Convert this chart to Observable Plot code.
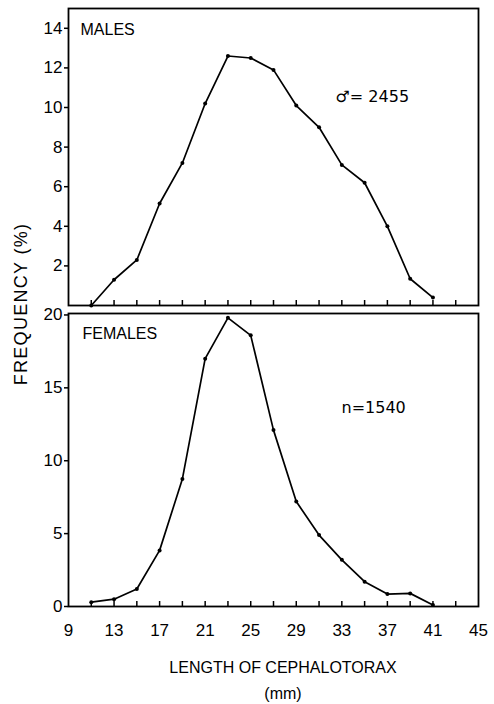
<!DOCTYPE html>
<html><head><meta charset="utf-8">
<script src="https://cdn.jsdelivr.net/npm/d3@7"></script>
<script src="https://cdn.jsdelivr.net/npm/@observablehq/plot@0.6"></script>
<style>
body{margin:0;background:#fff;}
#wrap{position:relative;width:494px;height:704px;font-family:"Liberation Sans",Arial,sans-serif;color:#000;overflow:hidden;}
#top{position:absolute;left:0;top:0;}
#bot{position:absolute;left:0;top:309px;}
.ylab{position:absolute;left:21px;top:304px;transform:translate(-50%,-50%) rotate(-90deg);font-size:18px;letter-spacing:1.3px;white-space:nowrap;line-height:1;}
.xlab{position:absolute;left:283px;top:655px;transform:translateX(-50%);font-size:16px;text-align:center;line-height:26px;white-space:nowrap;}
</style></head><body>
<div id="wrap">
  <div id="top"></div>
  <div id="bot"></div>
  <div class="ylab">FREQUENCY (%)</div>
  <div class="xlab">LENGTH OF CEPHALOTORAX<br>(mm)</div>
</div>
<script>
const lengths = [11,13,15,17,19,21,23,25,27,29,31,33,35,37,39,41];
const malesFreq = [0,1.3,2.3,5.15,7.2,10.2,12.6,12.5,11.9,10.1,9.0,7.1,6.2,4.0,1.35,0.4];
const femalesFreq = [0.3,0.5,1.2,3.85,8.75,17.0,19.8,18.6,12.1,7.2,4.9,3.2,1.7,0.85,0.9,0.1];
const xTickLabels = [9,13,17,21,25,29,33,37,41,45];
const xMinorTicks = [11,13,15,17,19,21,23,25,27,29,31,33,35,37,39,41,43];
const malesYTicks = [2,4,6,8,10,12,14];
const femalesYTicks = [0,5,10,15,20];
const malesLabel = ["MALES"];
const malesN = ["\u2642= 2455"];
const femalesLabel = ["FEMALES"];
const femalesN = ["n=1540"];

const font = {fontFamily:'"Liberation Sans", Arial, sans-serif', fontSize:"17px", color:"#000", background:"#fff", overflow:"visible"};

const males = lengths.map((x,i)=>({x, y: malesFreq[i]}));
const females = lengths.map((x,i)=>({x, y: femalesFreq[i]}));

function panel({data, height, marginTop, marginBottom, yDomain, yTicks, label, labelDx, labelDy, nText, nDx, nDy, showX}) {
  const fh = height - marginTop - marginBottom;
  const marks = [
    Plot.frame({stroke:"#000", strokeWidth:1.8}),
    Plot.tickX(xMinorTicks, {x: d=>d, stroke:"#000", strokeWidth:1.5, insetTop: fh - 5}),
    Plot.axisY(yTicks, {tickSize:4, tickPadding:2, fontSize:17, label:null, strokeWidth:1.5}),
    Plot.line(data, {x:"x", y:"y", stroke:"#000", strokeWidth:1.7}),
    Plot.dot(data, {x:"x", y:"y", r:2, fill:"#000"}),
    Plot.text(label, {text:d=>d, frameAnchor:"top-left", dx:labelDx, dy:labelDy, textAnchor:"start", lineAnchor:"middle", fontSize:16}),
    Plot.text(nText, {text:d=>d, frameAnchor:"top-left", dx:nDx, dy:nDy, textAnchor:"start", lineAnchor:"middle", fontSize:16, fontFamily:'"DejaVu Sans", sans-serif'})
  ];
  if (showX) marks.push(Plot.axisX(xTickLabels, {tickSize:0, tickPadding:17, fontSize:17, label:null}));
  else marks.push(Plot.axisX([], {label:null}));
  return Plot.plot({
    width:494, height, marginLeft:68, marginRight:16, marginTop, marginBottom,
    x:{domain:[9,45]},
    y:{domain:yDomain},
    style:font,
    marks
  });
}

document.getElementById("top").appendChild(panel({
  data: males, height:309, marginTop:8, marginBottom:4, yDomain:[0,15], yTicks:malesYTicks,
  label: malesLabel, labelDx:12, labelDy:21, nText: malesN, nDx:267, nDy:88, showX:false
}));
document.getElementById("bot").appendChild(panel({
  data: females, height:395, marginTop:4, marginBottom:98, yDomain:[0,20.1], yTicks:femalesYTicks,
  label: femalesLabel, labelDx:14, labelDy:20, nText: femalesN, nDx:273, nDy:94, showX:true
}));
</script>
</body></html>
